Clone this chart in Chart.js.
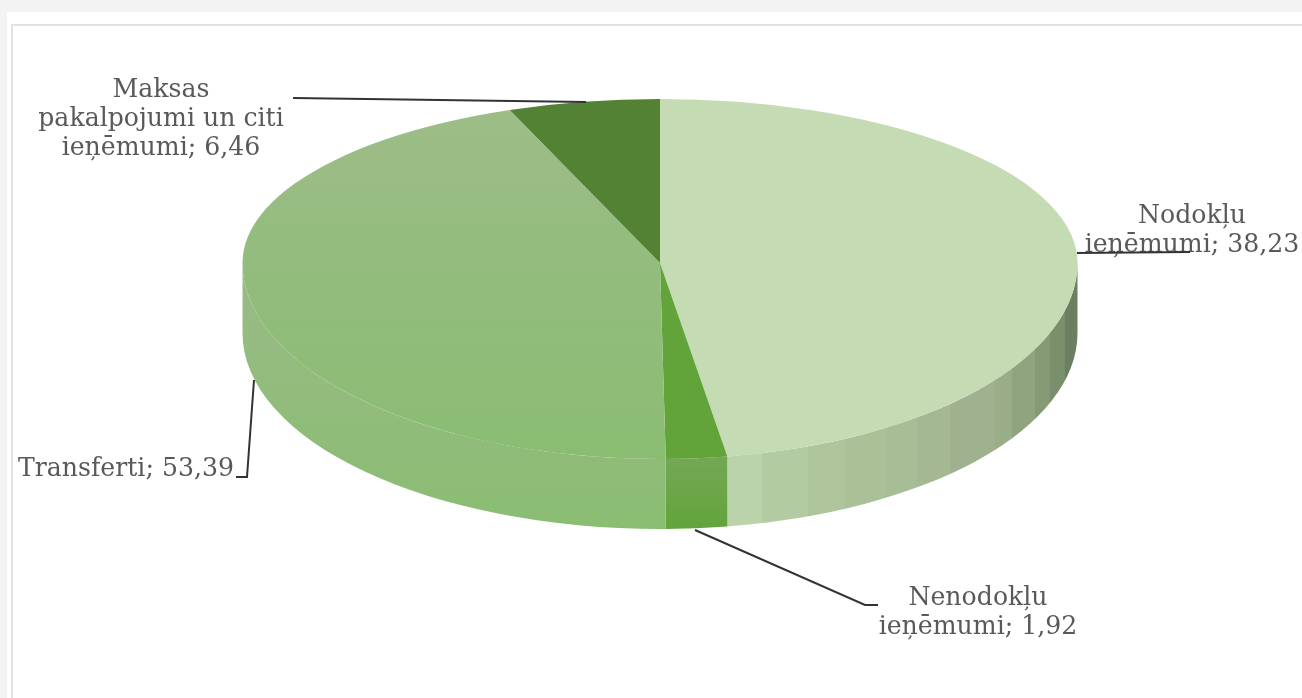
<!DOCTYPE html>
<html>
<head>
<meta charset="utf-8">
<title>Ieņēmumi</title>
<script src="https://cdn.jsdelivr.net/npm/chart.js@4"></script>
<style>
  html, body { margin: 0; padding: 0; background: #f3f3f3; overflow: hidden; }
  #sheet { position: absolute; left: 7px; top: 12px; width: 1295px; height: 686px; background: #fff; }
  #frame { position: absolute; left: 11px; top: 24px; width: 1291px; height: 674px; border-left: 2px solid #e2e2e2; border-top: 2px solid #e2e2e2; box-sizing: border-box; }
  #pie { position: absolute; left: 0; top: 0; }
</style>
</head>
<body>
<div id="sheet"></div>
<div id="frame"></div>
<canvas id="pie" width="1302" height="698"></canvas>
<script>
const categories = ['Nodokļu ieņēmumi', 'Nenodokļu ieņēmumi', 'Transferti', 'Maksas pakalpojumi un citi'];
// numbers printed on the labels
const printedValues = ['38,23', '1,92', '53,39', '6,46'];
// slice sizes as measured on the drawing, in percent (the drawn slices do not follow the printed numbers)
const drawnShares = [47.42, 2.36, 44.36, 5.86];
const labelLines = [
  ['Nodokļu', 'ieņēmumi; ' + printedValues[0]],
  ['Nenodokļu', 'ieņēmumi; ' + printedValues[1]],
  ['Transferti; ' + printedValues[2]],
  ['Maksas', 'pakalpojumi un citi', 'ieņēmumi; ' + printedValues[3]]
];

// look of the tilted pie
const center = { x: 660, y: 263 };
const radiusX = 417.5, radiusUp = 164, radiusDown = 196, depth = 70;

const labelBoxes = [
  { x: 1192, y: 222.5 },
  { x: 978, y: 605 },
  { x: 126, y: 476 },
  { x: 161, y: 97 }
];
const leaders = [
  [[1077, 253], [1190, 252]],
  [[695, 530], [865, 605], [878, 605]],
  [[254, 380], [247, 477], [236, 477]],
  [[293, 98], [586, 102]]
];
// side wall of the first slice, banded from left to right
const wallBands = [
  [727, '#bbd3aa'], [762, '#b3cba1'], [808, '#aec59c'], [845, '#aac197'],
  [885, '#a6bd95'], [917, '#a3b893'], [950, '#9fb18f'], [995, '#98ad88'],
  [1012, '#8fa47f'], [1035, '#869a76'], [1050, '#7a8f6c'], [1065, '#6c7f60'], [1078, null]
];
const sliceColors = ['#c4dbb3', '#62a43a', null, '#548235'];

function topFill(ctx) {
  const chart = ctx.chart, area = chart.chartArea;
  if (sliceColors[ctx.dataIndex]) return sliceColors[ctx.dataIndex];
  if (!area) return '#8fbc79';
  const g = chart.ctx.createLinearGradient(0, area.top, 0, area.bottom);
  g.addColorStop(0, '#9ebd87');
  g.addColorStop(0.5, '#93bc7e');
  g.addColorStop(1, '#8abd72');
  return g;
}

function drawWall(c, index, a0, a1) {
  c.save();
  c.beginPath();
  c.ellipse(center.x, center.y, radiusX, radiusDown, 0, a0, a1);
  c.ellipse(center.x, center.y + depth, radiusX, radiusDown, 0, a1, a0, true);
  c.closePath();
  if (index === 0) {
    c.clip();
    for (let i = 0; i < wallBands.length - 1; i++) {
      c.fillStyle = wallBands[i][1];
      c.fillRect(wallBands[i][0], 200, wallBands[i + 1][0] - wallBands[i][0] + 0.5, 400);
    }
  } else if (index === 1) {
    const g = c.createLinearGradient(0, 457, 0, 530);
    g.addColorStop(0, '#74a756');
    g.addColorStop(1, '#62a43a');
    c.fillStyle = g;
    c.fill();
  } else {
    const g = c.createLinearGradient(0, 280, 0, 530);
    g.addColorStop(0, '#99bb85');
    g.addColorStop(1, '#8abd72');
    c.fillStyle = g;
    c.fill();
  }
  c.restore();
}

const tiltedPie = {
  id: 'tiltedPie',
  beforeDatasetDraw(chart, args) {
    const c = chart.ctx;
    const arcs = args.meta.data;

    // side walls, only the front half of the circle shows
    arcs.forEach((arc, i) => {
      const a0 = Math.max(arc.startAngle, 0);
      const a1 = Math.min(arc.endAngle, Math.PI);
      if (a1 > a0) drawWall(c, i, a0, a1);
    });

    // top face: the library's own arcs, squashed differently above and below the centre
    const r = arcs[0].outerRadius;
    [[radiusDown, center.y, 698 - center.y], [radiusUp, 0, center.y + 0.5]].forEach(([ry, clipY, clipH]) => {
      c.save();
      c.beginPath();
      c.rect(0, clipY, 1302, clipH);
      c.clip();
      c.translate(center.x, center.y);
      c.scale(radiusX / r, ry / r);
      c.translate(-arcs[0].x, -arcs[0].y);
      arcs.forEach(arc => arc.draw(c));
      c.restore();
    });
    return false;
  },
  afterDraw(chart) {
    const c = chart.ctx;
    c.save();
    c.fillStyle = '#595959';
    c.font = '25.2px "DejaVu Serif"';
    c.textAlign = 'center';
    c.textBaseline = 'alphabetic';
    labelLines.forEach((lines, i) => {
      lines.forEach((line, j) => c.fillText(line, labelBoxes[i].x, labelBoxes[i].y + j * 29));
    });
    // leaders go over the text, the first one runs through its label
    c.strokeStyle = '#333333';
    c.lineWidth = 2;
    leaders.forEach(pts => {
      c.beginPath();
      pts.forEach((p, i) => i ? c.lineTo(p[0], p[1]) : c.moveTo(p[0], p[1]));
      c.stroke();
    });
    c.restore();
  }
};

new Chart(document.getElementById('pie'), {
  type: 'pie',
  data: {
    labels: categories,
    datasets: [{
      data: drawnShares,
      backgroundColor: topFill,
      borderWidth: 0
    }]
  },
  options: {
    responsive: false,
    animation: false,
    plugins: { legend: { display: false }, tooltip: { enabled: false } }
  },
  plugins: [tiltedPie]
});
</script>
</body>
</html>
